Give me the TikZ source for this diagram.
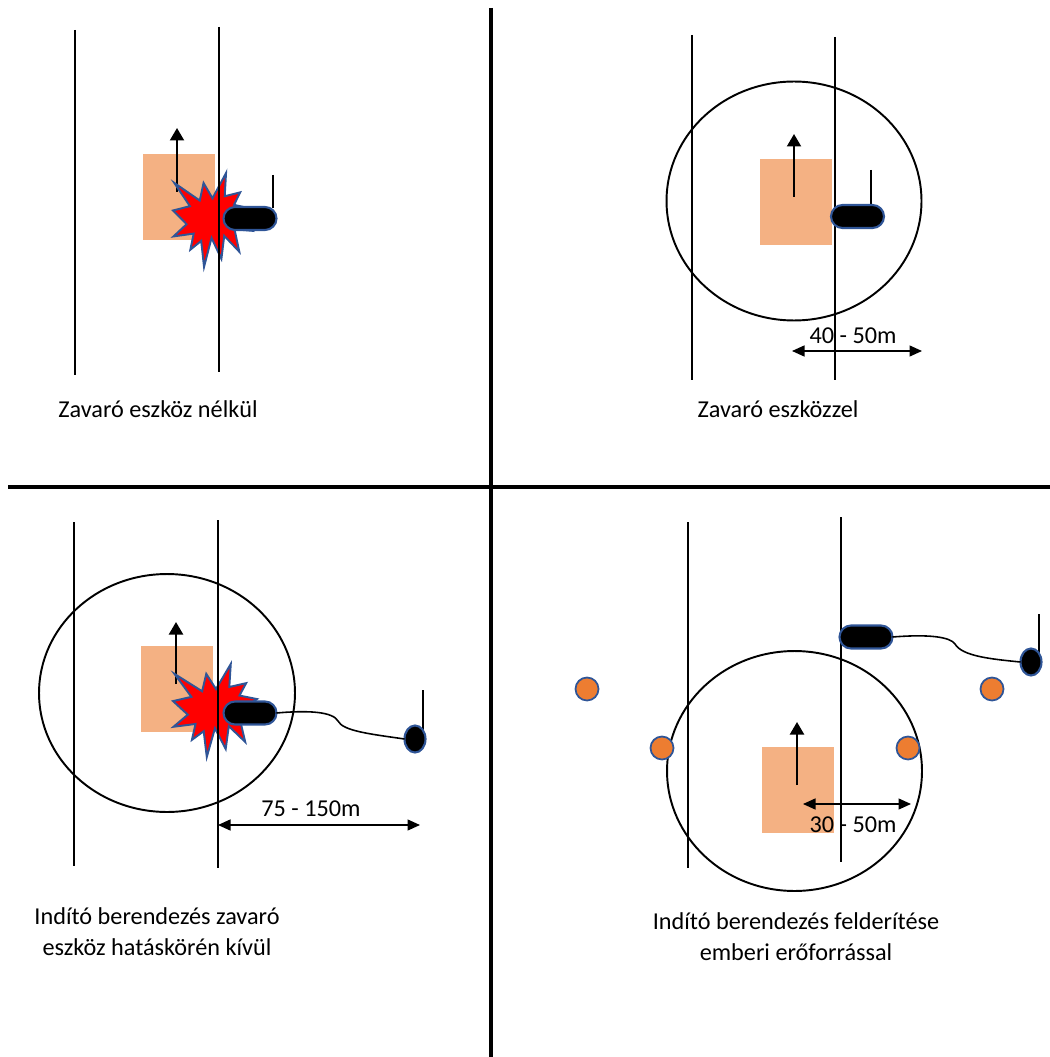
\documentclass[tikz,border=0pt]{standalone}
\usepackage{fontspec}
\setmainfont{Carlito}
\usepackage{tikz}
\usetikzlibrary{arrows.meta,shapes.geometric}
\definecolor{carorange}{HTML}{F4B183}
\definecolor{manorange}{HTML}{ED7D31}
\definecolor{bombblue}{HTML}{2F5597}

\begin{document}
\begin{tikzpicture}[x={(0.02cm,0cm)},y={(0cm,-0.02cm)},
  every node/.style={inner sep=0pt, outer sep=0pt},
  road/.style={line width=1.1pt},
  split/.style={line width=2pt},
  car/.style={fill=carorange, minimum width=1.44cm, minimum height=1.72cm},
  move/.style={line width=1.2pt, -{Triangle[length=0.25cm,width=0.28cm]}},
  span/.style={line width=0.75pt, {Triangle[length=0.25cm,width=0.22cm]}-{Triangle[length=0.25cm,width=0.22cm]}},
  boom/.style={fill=red, draw=bombblue, line width=1.1pt, line join=miter},
  bomb/.style={draw=bombblue, fill=black, line width=1.2pt, rounded corners=0.23cm, minimum width=1.06cm, minimum height=0.46cm},
  det/.style={ellipse, draw=bombblue, fill=black, line width=1.2pt, minimum width=0.42cm, minimum height=0.54cm},
  man/.style={circle, draw=bombblue, fill=manorange, line width=1pt, minimum size=0.46cm},
  zone/.style={ellipse, draw, line width=1.1pt},
  wire/.style={line width=0.9pt},
  txt/.style={font=\fontsize{13.8}{17.6}\selectfont, anchor=base}]
\useasboundingbox (0,0) rectangle (1050,1057);

\draw[split] (491,8) -- (491,1057);
\draw[split] (8,487) -- (1050,487);

\node[car] (car1) at (179,197) {};
\draw[move] (177,192) -- (177,128);
\begin{scope}[shift={(173,173)},x={(0.0158cm,0cm)},y={(0cm,-0.0188cm)}]
\draw[boom] (50,26.9) -- (67.2,0) -- (65.5,24.7) -- (85.1,20.6) -- (77.3,33.9) -- (97.7,37.7) -- (81.5,48.5) -- (100,61.5) -- (77.9,59.9) -- (84,83.8) -- (64.9,66.9) -- (61.3,91.4) -- (48.8,69.1) -- (39.3,100) -- (35.7,72.3) -- (22,81.6) -- (26.2,64.5) -- (0.6,67.5) -- (17.2,54.5) -- (0,39.9) -- (21.4,35.3) -- (1.7,10.6) -- (33.9,29.3) -- (38.7,10.6) -- cycle;
\end{scope}
\draw[road] (75,30) -- (75,375);
\draw[road] (219,27) -- (219,372);
\draw[road] (273,175) -- (273,208);
\node[bomb] (bomb1) at (250,218.5) {};
\node[txt] (cap1) at (158,417) {Zavaró eszköz nélkül};

\node[zone, minimum width=5.1cm, minimum height=4.78cm] (zone2) at (794,201) {};
\draw[road] (692,35) -- (692,380);
\draw[road] (835,37) -- (835,380);
\node[car] (car2) at (795.5,202) {};
\draw[move] (794,197) -- (794,134);
\draw[road] (871,170) -- (871,206);
\node[bomb] (bomb2) at (857.5,216.5) {};
\draw[span] (792,351) -- (922,351);
\node[txt, anchor=center] (dist2) at (853,336) {40 - 50m};
\node[txt] (cap2) at (778,417) {Zavaró eszközzel};

\node[zone, minimum width=5.12cm, minimum height=4.76cm] (zone3) at (167,693) {};
\node[car] (car3) at (177,689) {};
\draw[move] (176,684) -- (176,622);
\begin{scope}[shift={(173,664)},x={(0.0172cm,0cm)},y={(0cm,-0.0186cm)}]
\draw[boom] (50,26.9) -- (67.2,0) -- (65.5,24.7) -- (85.1,20.6) -- (77.3,33.9) -- (97.7,37.7) -- (81.5,48.5) -- (100,61.5) -- (77.9,59.9) -- (84,83.8) -- (64.9,66.9) -- (61.3,91.4) -- (48.8,69.1) -- (39.3,100) -- (35.7,72.3) -- (22,81.6) -- (26.2,64.5) -- (0.6,67.5) -- (17.2,54.5) -- (0,39.9) -- (21.4,35.3) -- (1.7,10.6) -- (33.9,29.3) -- (38.7,10.6) -- cycle;
\end{scope}
\draw[road] (74,522) -- (74,866);
\draw[road] (218,520) -- (218,868);
\node[bomb] (bomb3) at (250,713) {};
\draw[road] (423,690) -- (423,732);
\node[det] (det3) at (415,739) {};
\draw[wire] (bomb3.east) .. controls (310,710) and (333,712) .. (338,721) .. controls (343,731) and (370,734) .. (det3.west);
\draw[span] (218,825) -- (420,825);
\node[txt, anchor=center] (dist3) at (311,809) {75 - 150m};
\node[txt] (cap3a) at (157,924) {Indító berendezés zavaró};
\node[txt] (cap3b) at (157,955) {eszköz hatáskörén kívül};

\draw[road] (688,522) -- (688,868);
\draw[road] (841,517) -- (841,862);
\node[zone, minimum width=5.1cm, minimum height=4.8cm] (zone4) at (794.5,771) {};
\node[car] (car4) at (798,790) {};
\draw[move] (797,785) -- (797,722);
\draw[span] (803,804) -- (911,804);
\node[txt, anchor=center] (dist4) at (853,825) {30 - 50m};
\node[bomb] (bomb4) at (866,637) {};
\draw[road] (1039,614) -- (1039,655);
\node[det] (det4) at (1031,662) {};
\draw[wire] (bomb4.east) .. controls (930,634) and (950,637) .. (955,644) .. controls (962,656) and (990,659) .. (det4.west);
\node[man] (man1) at (587,689) {};
\node[man] (man2) at (662,748) {};
\node[man] (man3) at (908,748) {};
\node[man] (man4) at (992,689) {};
\node[txt] (cap4a) at (796,929) {Indító berendezés felderítése};
\node[txt] (cap4b) at (796,960) {emberi erőforrással};
\end{tikzpicture}
\end{document}
